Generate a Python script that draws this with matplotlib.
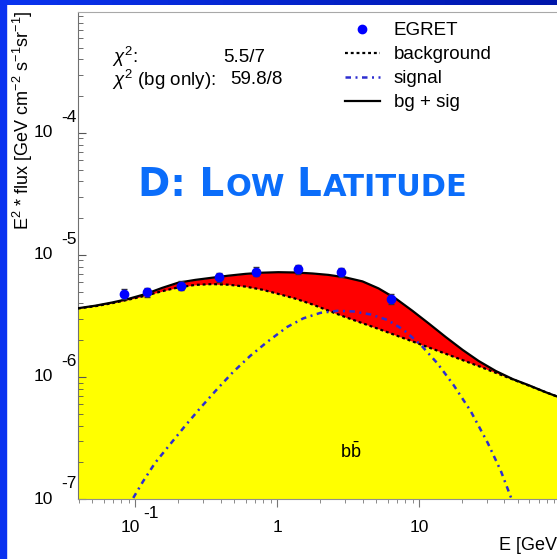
import numpy as np
import matplotlib
matplotlib.use("Agg")
import matplotlib.pyplot as plt
from matplotlib.patches import Rectangle
from matplotlib.legend_handler import HandlerLine2D

plt.rcParams['font.family'] = ['Liberation Sans', 'DejaVu Sans']
plt.rcParams['mathtext.fontset'] = 'custom'
plt.rcParams['mathtext.rm'] = 'Liberation Sans'
plt.rcParams['mathtext.it'] = 'Liberation Sans:italic'
plt.rcParams['mathtext.bf'] = 'Liberation Sans:bold'

# model curves, E^2 * flux [GeV cm^-2 s^-1 sr^-1] vs E [GeV]
energy = [0.0396, 0.0522, 0.0688, 0.0893, 0.118, 0.155, 0.201, 0.265, 0.350, 0.453,
          0.598, 0.787, 1.02, 1.35, 1.78, 2.30, 3.03, 4.00, 5.19, 6.84,
          9.01, 11.7, 15.4, 20.3, 26.3, 34.7, 45.8, 59.4, 78.3, 95.1]
background = [3.642e-6, 3.796e-6, 4.018e-6, 4.291e-6, 4.629e-6, 5.040e-6, 5.414e-6,
              5.676e-6, 5.763e-6, 5.697e-6, 5.497e-6, 5.185e-6, 4.788e-6, 4.375e-6,
              3.920e-6, 3.494e-6, 3.092e-6, 2.755e-6, 2.474e-6, 2.196e-6, 1.954e-6,
              1.745e-6, 1.549e-6, 1.373e-6, 1.226e-6, 1.082e-6, 9.54e-7, 8.49e-7,
              7.49e-7, 6.88e-7]
bg_plus_sig = [3.656e-6, 3.832e-6, 4.071e-6, 4.356e-6, 4.772e-6, 5.364e-6, 5.917e-6,
               6.239e-6, 6.503e-6, 6.753e-6, 6.987e-6, 7.147e-6, 7.215e-6, 7.174e-6,
               7.040e-6, 6.857e-6, 6.540e-6, 6.064e-6, 5.313e-6, 4.397e-6, 3.475e-6,
               2.745e-6, 2.127e-6, 1.665e-6, 1.352e-6, 1.120e-6, 9.60e-7, 8.55e-7,
               7.49e-7, 6.88e-7]

sig_energy = [0.097, 0.114, 0.138, 0.177, 0.225, 0.288, 0.379, 0.491, 0.648, 0.854,
              1.18, 1.53, 2.02, 2.67, 3.46, 4.56, 6.00, 7.79, 10.3, 13.5,
              17.5, 23.1, 30.5, 37.7, 44.3, 48.1]
signal = [1.02e-7, 1.40e-7, 1.97e-7, 2.82e-7, 3.97e-7, 5.57e-7, 7.97e-7, 1.10e-6,
          1.49e-6, 1.94e-6, 2.57e-6, 3.02e-6, 3.35e-6, 3.48e-6, 3.44e-6, 3.25e-6,
          2.93e-6, 2.43e-6, 1.83e-6, 1.29e-6, 8.60e-7, 5.26e-7, 2.88e-7, 1.70e-7,
          1.04e-7, 8.12e-8]

# EGRET data points
egret_e = [0.084, 0.122, 0.212, 0.387, 0.707, 1.41, 2.83, 6.32]
egret_flux = [4.79e-6, 4.95e-6, 5.61e-6, 6.57e-6, 7.30e-6, 7.68e-6, 7.22e-6, 4.34e-6]
egret_err = [0.45e-6, 0.45e-6, 0.50e-6, 0.55e-6, 0.60e-6, 0.65e-6, 0.60e-6, 0.40e-6]


class RightDot(HandlerLine2D):
    # legend marker sits at the right end of the handle box
    def get_xdata(self, legend, xdescent, ydescent, width, height, fontsize):
        xdata, _ = super().get_xdata(legend, xdescent, ydescent, width, height, fontsize)
        return xdata, np.array([0.85 * width - xdescent])


W, H = 557, 559
fig = plt.figure(figsize=(W / 100, H / 100), dpi=100)

# blue frame around the page
fig.patches.append(Rectangle((0, 0), 6 / W, 1, transform=fig.transFigure,
                             color='#0a32f0', zorder=0))
band = fig.add_axes([0, 1 - 5 / H, 1, 5 / H])
band.imshow(np.linspace(0, 1, 256)[None, :], aspect='auto',
            cmap=matplotlib.colors.LinearSegmentedColormap.from_list('b', ['#0a34f0', '#0016aa']))
band.axis('off')

ax = fig.add_axes([78 / W, 1 - 499 / H, 1 - 78 / W + 0.002, 487 / H])
ax.set_xscale('log')
ax.set_yscale('log')
ax.set_xlim(0.0396, 95.5)
ax.set_ylim(1e-7, 10 ** -3.01)

ymin = 1e-7
ax.fill_between(energy, ymin, background, color='#ffff00', lw=0, zorder=1)
ax.fill_between(energy, background, bg_plus_sig, color='#ff0000', lw=0, zorder=1)

sig_color = '#2e2ed0'
l_bg, = ax.plot(energy, background, color='black', lw=1.6, ls=(0, (1.3, 1.3)), zorder=3)
l_sig, = ax.plot(sig_energy, signal, color=sig_color, lw=1.8,
                 ls=(0, (2.2, 1.8, 0.8, 1.8)), zorder=3)
l_tot, = ax.plot(energy, bg_plus_sig, color='black', lw=1.6, zorder=3)

eb = ax.errorbar(egret_e, egret_flux, yerr=egret_err, fmt='o', color='#0000ff',
                 ms=6, ecolor='#333333', elinewidth=1, capsize=2, zorder=4)

ax.spines['right'].set_visible(False)
ax.spines['top'].set_color('#a8a8a8')
ax.spines['left'].set_color('#707070')
ax.spines['bottom'].set_color('#909090')

ax.tick_params(axis='y', which='both', direction='in', color='#555555', labelleft=False)
ax.tick_params(axis='y', which='major', length=6)
ax.tick_params(axis='y', which='minor', length=3.5)
ax.tick_params(axis='x', which='both', direction='out', color='#777777', labelbottom=False)
ax.tick_params(axis='x', which='major', length=6)
ax.tick_params(axis='x', which='minor', length=3)
ax.yaxis.set_minor_locator(matplotlib.ticker.LogLocator(subs=np.arange(2, 10)))
ax.xaxis.set_minor_locator(matplotlib.ticker.LogLocator(subs=np.arange(2, 10)))

# ROOT-style tick labels: "10" with the exponent set off to the upper right
lab = dict(fontsize=12.5, color='black')
for p in [-7, -6, -5, -4]:
    ax.annotate('10', xy=(0, 10.0 ** p), xycoords=('axes fraction', 'data'),
                xytext=(-25, 0), textcoords='offset pixels', ha='right', va='center', **lab)
    ax.annotate(str(p), xy=(0, 10.0 ** p), xycoords=('axes fraction', 'data'),
                xytext=(-17, 15), textcoords='offset pixels', ha='left', va='center', **lab)
ax.annotate('10', xy=(0.1, 0), xycoords=('data', 'axes fraction'),
            xytext=(5, -28), textcoords='offset pixels', ha='right', va='center', **lab)
ax.annotate('-1', xy=(0.1, 0), xycoords=('data', 'axes fraction'),
            xytext=(8, -14), textcoords='offset pixels', ha='left', va='center', **lab)
for v, s in [(1, '1'), (10, '10')]:
    ax.annotate(s, xy=(v, 0), xycoords=('data', 'axes fraction'),
                xytext=(0, -28), textcoords='offset pixels', ha='center', va='center', **lab)

fig.text(562 / W, 1 - 546 / H, 'E [GeV]', fontsize=13, ha='right', va='center')
fig.text(23 / W, 1 - 10 / H, r'E$^{2}$ * flux [GeV cm$^{-2}$ s$^{-1}$sr$^{-1}$]',
         fontsize=13, rotation=90, ha='center', va='top')

# fit quality
fit = dict(fontsize=13.5, transform=fig.transFigure, va='center')
ax.text(112 / W, 1 - 57 / H, r'$\chi^{2}$:', **fit)
ax.text(223 / W, 1 - 57 / H, '5.5/7', **fit)
ax.text(112 / W, 1 - 80 / H, r'$\chi^{2}$ (bg only):', **fit)
ax.text(230 / W, 1 - 80 / H, '59.8/8', **fit)

ax.text(3.3, 2.45e-7, r'$\mathrm{b\bar{b}}$', fontsize=13, ha='center', va='center', zorder=5)

ax.legend(handles=[eb[0], l_bg, l_sig, l_tot],
          labels=['EGRET', 'background', 'signal', 'bg + sig'], loc='upper left',
          bbox_to_anchor=(345 / W, 1 - 22 / H), bbox_transform=fig.transFigure,
          handler_map={eb[0]: RightDot(numpoints=1)},
          frameon=False, fontsize=13.5, handlelength=1.85, handletextpad=0.75,
          labelspacing=0.37, borderpad=0, borderaxespad=0)

# small-caps title
fig.canvas.draw()
rend = fig.canvas.get_renderer()
x = 138
title_color = '#0b6dfa'
for piece, size, gap in [('D: L', 28, 1), ('OW', 22, 12), ('L', 28, 1), ('ATITUDE', 22, 0)]:
    t = fig.text(x / W, 1 - 196 / H, piece, fontsize=size, color=title_color,
                 family='DejaVu Sans', weight='bold', ha='left', va='baseline')
    x += t.get_window_extent(rend).width + gap

fig.savefig('out.png', dpi=100)
